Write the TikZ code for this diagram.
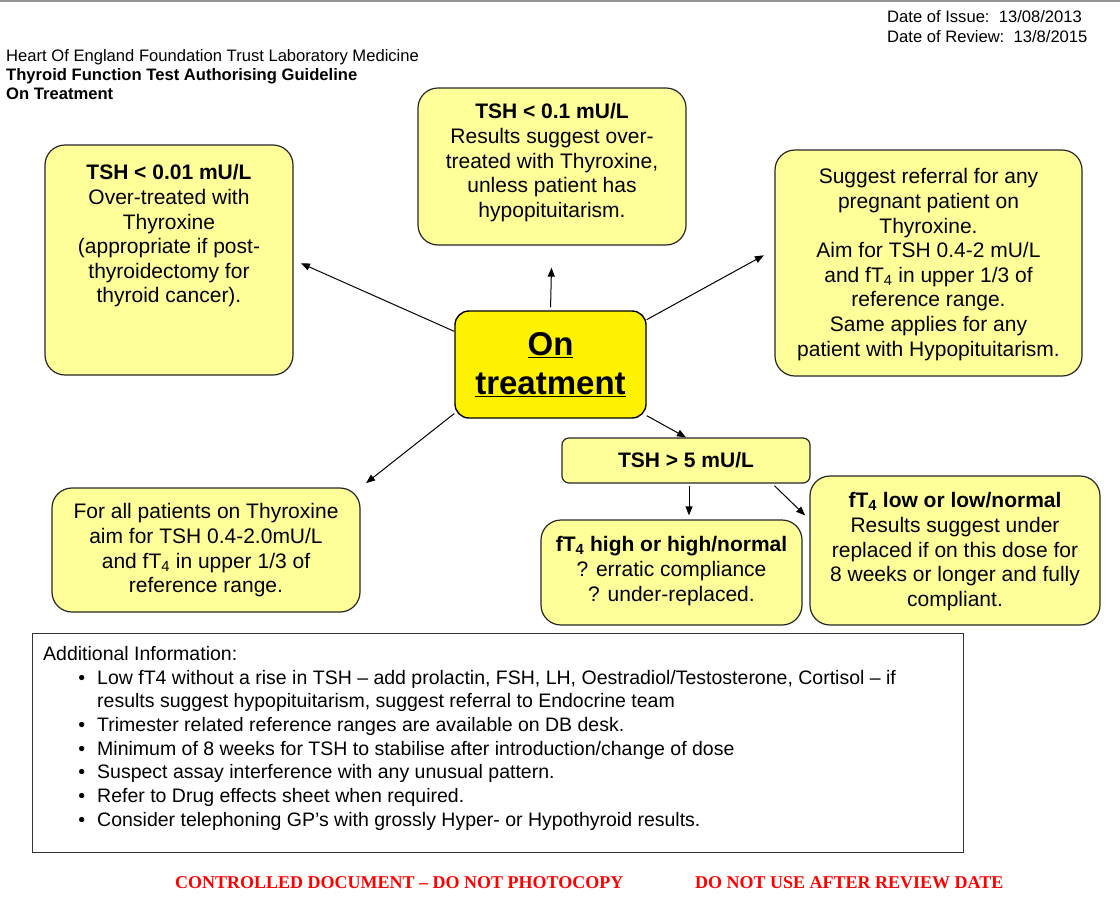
\documentclass[tikz,border=0pt]{standalone}
\usepackage{fontspec}
\setmainfont{Liberation Sans}
\newfontfamily\footfont[Ligatures=TeX]{Liberation Serif}
\usepackage{tikz}
\usetikzlibrary{arrows.meta}

\definecolor{paleyel}{RGB}{255,255,153}
\definecolor{hdrgrey}{RGB}{150,150,150}
\definecolor{warnred}{RGB}{255,0,0}

\tikzset{
  ybox/.style={draw=black!85, line width=1.2pt, rounded corners=20pt, fill=paleyel},
  ytext/.style={anchor=north, inner sep=0pt, align=center, font=\fontsize{21}{24.6}\selectfont},
  arr/.style={-{Triangle[length=9pt,width=7pt]}, line width=1pt}
}
\newcommand{\infoitem}[1]{\hspace*{54pt}\llap{\textbullet\hspace{12pt}}#1}

\begin{document}
\begin{tikzpicture}[x=1pt,y=-1pt]
\useasboundingbox (0,0) rectangle (1120,900);
%top rule
\draw [hdrgrey, line width=2.5pt] (0,1) -- (1120,1);

% Text Node
\node (dates) [anchor=north west, inner sep=0pt, align=left, font=\fontsize{16.6}{20}\selectfont] at (887,10) {Date of Issue:\ \ 13/08/2013\\Date of Review:\ \ 13/8/2015};
% Text Node
\node (title) [anchor=north west, inner sep=0pt, align=left, font=\fontsize{16.6}{19}\selectfont] at (6,49) {Heart Of England Foundation Trust Laboratory Medicine\\\textbf{Thyroid Function Test Authorising Guideline}\\\textbf{On Treatment}};

%Shape: centre box
\node (ontreat) [draw=black, line width=1.4pt, rounded corners=14pt, fill=yellow, minimum width=191pt, minimum height=107pt, align=center, font=\fontsize{33}{39}\selectfont\bfseries] at (550.5,364.5) {\underline{On}\\\underline{treatment}};

%Shape: left box
\node (lowtsh) [ybox, minimum width=248pt, minimum height=230pt] at (169,260) {};
\node (lowtshtxt) [ytext] at ([yshift=-20pt]lowtsh.north) {\textbf{TSH < 0.01 mU/L}\\Over-treated with\\Thyroxine\\(appropriate if post-\\thyroidectomy for\\thyroid cancer).};

%Shape: top box
\node (midtsh) [ybox, minimum width=268pt, minimum height=157pt] at (552,166.5) {};
\node (midtshtxt) [ytext] at ([yshift=-16pt]midtsh.north) {\textbf{TSH < 0.1 mU/L}\\Results suggest over-\\treated with Thyroxine,\\unless patient has\\hypopituitarism.};

%Shape: right box
\node (pregbox) [ybox, minimum width=307pt, minimum height=226pt] at (928.5,263) {};
\node (pregtxt) [ytext] at ([yshift=-19pt]pregbox.north) {Suggest referral for any\\pregnant patient on\\Thyroxine.\\Aim for TSH 0.4-2 mU/L\\and fT\textsubscript{4} in upper 1/3 of\\reference range.\\Same applies for any\\patient with Hypopituitarism.};

%Shape: bottom left box
\node (allbox) [ybox, minimum width=308pt, minimum height=124pt] at (206,550) {};
\node (alltxt) [ytext] at ([yshift=-16pt]allbox.north) {For all patients on Thyroxine\\aim for TSH 0.4-2.0mU/L\\and fT\textsubscript{4} in upper 1/3 of\\reference range.};

%Shape: TSH > 5 box
\node (hightsh) [draw=black!85, line width=1.2pt, rounded corners=7pt, fill=paleyel, minimum width=248pt, minimum height=45pt, font=\fontsize{21}{24.6}\selectfont\bfseries] at (686,460.5) {TSH > 5 mU/L};

%Shape: fT4 high box
\node (fthigh) [ybox, minimum width=261pt, minimum height=105pt] at (671.5,572.5) {};
\node (fthightxt) [ytext] at ([yshift=-17pt]fthigh.north) {\textbf{fT\textsubscript{4} high or high/normal}\\? erratic compliance\\? under-replaced.};

%Shape: fT4 low box
\node (ftlow) [ybox, minimum width=290pt, minimum height=149pt] at (955,550.5) {};
\node (ftlowtxt) [ytext] at ([yshift=-17pt]ftlow.north) {\textbf{fT\textsubscript{4} low or low/normal}\\Results suggest under\\replaced if on this dose for\\8 weeks or longer and fully\\compliant.};

%Arrows
\draw [arr, shorten >=8pt] (ontreat.161) -- (lowtsh.east);
\draw [arr, shorten <=3pt, shorten >=22pt] (ontreat.north) -- (midtsh.south);
\draw [arr, shorten >=12pt] (ontreat.25) -- (pregbox.175);
\draw [arr, shorten >=7pt] (ontreat.207) -- (allbox.north east);
\draw [arr] (ontreat.-28) -- (hightsh.north);
\draw [arr, shorten <=2pt, shorten >=4pt] (hightsh.south -| 689,0) -- (fthigh.north -| 689,0);
\draw [arr, shorten <=3pt, shorten >=6pt] (hightsh.-15) -- (ftlow.168);

%Shape: additional information
\node (infobox) [draw=black!80, line width=1pt, anchor=north west, minimum width=931pt, minimum height=219pt] at (32,633) {};
\node (infotxt) [anchor=north west, inner sep=0pt, align=left, font=\fontsize{19.5}{23.7}\selectfont] at (43,646) {Additional Information:\\
\infoitem{Low fT4 without a rise in TSH -- add prolactin, FSH, LH, Oestradiol/Testosterone, Cortisol -- if}\\
\hspace*{54pt}results suggest hypopituitarism, suggest referral to Endocrine team\\
\infoitem{Trimester related reference ranges are available on DB desk.}\\
\infoitem{Minimum of 8 weeks for TSH to stabilise after introduction/change of dose}\\
\infoitem{Suspect assay interference with any unusual pattern.}\\
\infoitem{Refer to Drug effects sheet when required.}\\
\infoitem{Consider telephoning GP's with grossly Hyper- or Hypothyroid results.}};

% Text Node
\node (ctrlnote) [anchor=base west, inner sep=0pt, text=warnred, font=\footfont\fontsize{18}{20}\selectfont\bfseries] at (175,888) {CONTROLLED DOCUMENT – DO NOT PHOTOCOPY};
% Text Node
\node (revnote) [anchor=base west, inner sep=0pt, text=warnred, font=\footfont\fontsize{18}{20}\selectfont\bfseries] at (695,888) {DO NOT USE AFTER REVIEW DATE};

\end{tikzpicture}
\end{document}
